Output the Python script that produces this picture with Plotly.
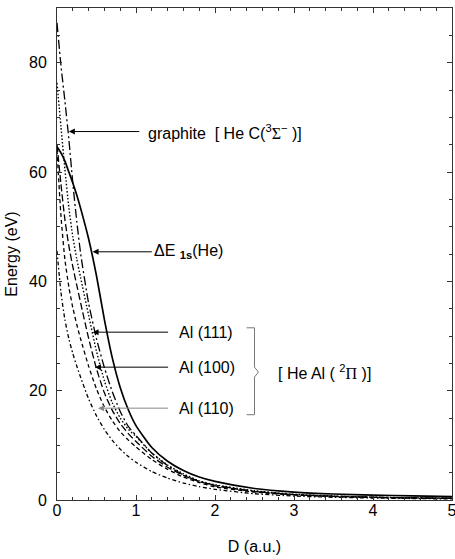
import plotly.graph_objects as go

# ---------------- data ----------------
D = [0, 0.05, 0.1, 0.15, 0.2, 0.25, 0.3, 0.4, 0.5, 0.6, 0.7, 0.8, 0.9, 1.0,
     1.2, 1.4, 1.6, 1.8, 2.0, 2.5, 3.0, 3.5, 4.0, 4.5, 5.0]

dE_1s_He = [64.6, 63.5, 62.0, 60.0, 58.0, 55.8, 53.3, 47.8, 41.0, 33.0, 26.0, 20.6, 16.6, 13.6,
            9.6, 7.1, 5.4, 4.2, 3.4, 2.1, 1.45, 1.1, 0.9, 0.75, 0.62]
graphite = [87.3, 79.5, 73.0, 66.0, 58.0, 51.0, 45.0, 36.0, 29.5, 24.2, 19.8, 16.2, 13.5, 11.8,
            8.6, 6.3, 4.6, 3.4, 2.7, 1.6, 1.0, 0.7, 0.5, 0.4, 0.32]
al_111 = [76.3, 68.3, 60.5, 53.5, 48.2, 44.1, 40.6, 33.8, 27.2, 21.8, 17.8, 15.0, 13.0, 11.6,
          8.6, 6.4, 4.8, 3.5, 2.8, 1.7, 1.05, 0.72, 0.52, 0.4, 0.32]
al_100 = [65.0, 57.8, 51.3, 46.5, 42.7, 39.3, 36.0, 29.6, 24.0, 19.6, 16.4, 14.0, 12.2, 10.7,
          8.0, 6.0, 4.5, 3.4, 2.6, 1.55, 0.98, 0.68, 0.5, 0.38, 0.3]
al_110 = [64.0, 52.0, 44.0, 39.0, 35.2, 32.1, 29.4, 24.5, 20.3, 17.0, 14.5, 12.5, 11.0, 9.7,
          7.4, 5.6, 4.2, 3.2, 2.4, 1.45, 0.92, 0.64, 0.46, 0.35, 0.28]
heal_mol = [45.6, 38.0, 33.0, 29.5, 26.8, 24.5, 22.4, 18.5, 15.4, 12.9, 10.9, 9.3, 8.0, 6.9,
            5.2, 4.0, 3.1, 2.45, 1.95, 1.15, 0.72, 0.5, 0.36, 0.27, 0.2]

x_ticks = [0, 1, 2, 3, 4, 5]
y_ticks = [0, 20, 40, 60, 80]

FONT = "Liberation Sans, Arial, Helvetica, sans-serif"
SIGMA = "<span style=\"font-family:'Liberation Serif'\">Σ</span>"
PI = "<span style=\"font-family:'Liberation Serif'\">Π</span>"

series = [
    (dE_1s_He, "solid", 1.7),
    (graphite, "9px,3px,2px,3px", 1.3),
    (al_111, "1.5px,2px", 1.4),
    (al_100, "7px,3px", 1.3),
    (al_110, "4px,3px", 1.3),
    (heal_mol, "4px,2.5px,1.5px,2.5px", 1.3),
]

fig = go.Figure()
for ys, dash, w in series:
    fig.add_trace(go.Scatter(x=D, y=ys, mode="lines",
                             line=dict(color="black", width=w, dash=dash,
                                       shape="spline", smoothing=0.6),
                             showlegend=False, hoverinfo="skip"))

# ---------------- annotations (text with arrow pointing at a curve) ----------------
def arrow_label(tip_x, tip_y, text_x, text, gap, color="black"):
    fig.add_annotation(x=tip_x, y=tip_y, ax=text_x, ay=tip_y, xref="x", yref="y",
                       axref="x", ayref="y", text=text, showarrow=True,
                       xanchor="left", yanchor="middle",
                       arrowhead=2, arrowsize=1.2, arrowwidth=1, arrowcolor=color,
                       startstandoff=gap,
                       font=dict(family=FONT, size=16, color="black"))

arrow_label(0.15, 67.4, 1.13,
            "graphite  [ He C(<sup>3</sup>" + SIGMA + "<sup>−</sup> )]", 7)
arrow_label(0.45, 45.4, 1.20, "ΔE <sub><b>1s</b></sub>(He)", 0)
arrow_label(0.45, 30.7, 1.52, "Al (111)", 9)
arrow_label(0.48, 24.3, 1.52, "Al (100)", 9)
arrow_label(0.52, 16.8, 1.52, "Al (110)", 9, color="#888888")

# bracket grouping the Al surfaces
fig.add_shape(type="path",
              path="M 2.40 31.5 L 2.50 31.5 L 2.50 24.3 L 2.55 23.4 L 2.50 22.5 L 2.50 15.6 L 2.40 15.6",
              xref="x", yref="y", line=dict(color="#777777", width=1))
fig.add_annotation(x=2.77, y=23.4, xref="x", yref="y", showarrow=False,
                   text="[ He Al ( <sup>2</sup>" + PI + " )]",
                   xanchor="left", yanchor="middle",
                   font=dict(family=FONT, size=16, color="black"))

axis_common = dict(showgrid=False, zeroline=False, showline=True, linecolor="#333333",
                   linewidth=1, mirror="ticks", ticks="inside", ticklen=5, tickwidth=1,
                   tickcolor="#333333", automargin=False,
                   tickfont=dict(family=FONT, size=16, color="black"))

fig.update_xaxes(range=[0, 5], tickvals=x_ticks, ticklabeloverflow="allow",
                 ticklabelstandoff=-4,
                 minor=dict(dtick=0.2, tick0=0, ticks="inside", ticklen=3, tickcolor="#333333"),
                 title=dict(text="D (a.u.)", font=dict(family=FONT, size=16, color="black"), standoff=22),
                 **axis_common)
fig.update_yaxes(range=[0, 90], tickvals=y_ticks, ticklabelstandoff=6,
                 minor=dict(dtick=5, tick0=0, ticks="inside", ticklen=3, tickcolor="#333333"),
                 title=dict(text="Energy (eV)", font=dict(family=FONT, size=16, color="black"), standoff=7),
                 **axis_common)

fig.update_layout(width=455, height=559, margin=dict(l=57, r=3, t=8, b=59),
                  paper_bgcolor="white", plot_bgcolor="white",
                  font=dict(family=FONT, size=16, color="black"))

fig.write_html("out.html")
